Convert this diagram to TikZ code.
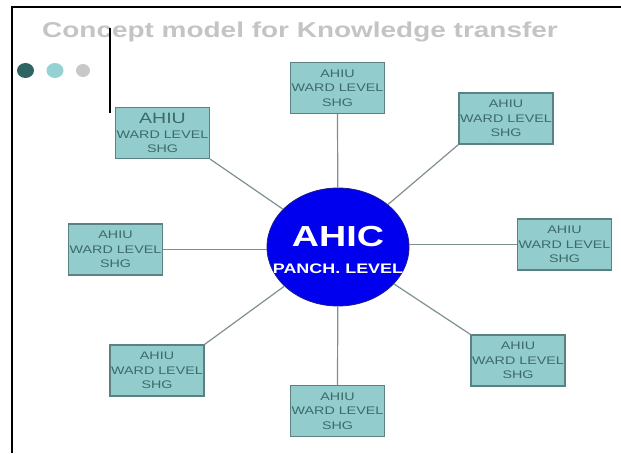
\documentclass[tikz,border=0pt]{standalone}
\usepackage{fontspec}
\usetikzlibrary{shapes.geometric}
\newfontfamily\wf[FakeStretch=1.3]{Liberation Sans}
\definecolor{boxfill}{HTML}{92CCCC}
\definecolor{boxline}{HTML}{5A8282}
\definecolor{boxtext}{HTML}{3C6A6A}
\definecolor{linkc}{HTML}{7F8F8F}
\definecolor{titlec}{HTML}{C4C4C4}
\definecolor{dotA}{HTML}{2F6464}
\definecolor{dotB}{HTML}{96D2D2}
\definecolor{dotC}{HTML}{C8C8C8}
\definecolor{hub}{HTML}{0000EE}
\definecolor{hubline}{HTML}{1A1A8C}
\begin{document}
\begin{tikzpicture}[x=1pt,y=-1pt,
  wardbox/.style={draw=boxline,line width=1.1pt,fill=boxfill,rectangle,
    minimum width=94pt,minimum height=51pt,inner sep=0pt,align=center,
    text=boxtext,font=\wf\fontsize{11}{14.5}\selectfont},
  link/.style={draw=linkc,line width=1.2pt},
  frameline/.style={draw=black,line width=2pt}]
\useasboundingbox (0,0) rectangle (621,453);
% frame
\coordinate (f1) at (621,7);
\coordinate (f2) at (11.5,7);
\coordinate (f3) at (11.5,453);
\draw[frameline] (f1) -- (f2) -- (f3);
% title
\node[anchor=base west,inner sep=0pt,text=titlec,font=\wf\bfseries\fontsize{21.5}{25}\selectfont] (title) at (42,37.5) {Concept model for Knowledge transfer};
% dots
\fill[dotA] (25.5,70.5) ellipse [x radius=8.5,y radius=7.5];
\fill[dotB] (55,70.5) ellipse [x radius=8.5,y radius=7.5];
\fill[dotC] (83,70.5) ellipse [x radius=7,y radius=6.5];
% vertical bar
\coordinate (v1) at (109.5,28);
\coordinate (v2) at (109.5,113);
\draw[frameline] (v1) -- (v2);
% hub
\node[ellipse,draw=hubline,line width=0.8pt,fill=hub,minimum width=142pt,minimum height=118pt,inner sep=0pt] (c) at (338,247) {};
\node[inner sep=0pt,text=white,font=\wf\bfseries\fontsize{29}{32}\selectfont] (ahic) at (338,236.5) {AHIC};
\node[inner sep=0pt,text=white,font=\wf\bfseries\fontsize{13.8}{15}\selectfont] (panch) at (338,268.5) {PANCH. LEVEL};
% boxes
\node[wardbox] (tc) at (337.5,88) {AHIU\\WARD LEVEL\\SHG};
\node[wardbox] (tl) at (162.5,133) {{\fontsize{15}{17}\selectfont AHIU}\\WARD LEVEL\\SHG};
\node[wardbox] (tr) at (506,118.5) {AHIU\\WARD LEVEL\\SHG};
\node[wardbox] (l) at (115.5,249.5) {AHIU\\WARD LEVEL\\SHG};
\node[wardbox] (r) at (564.5,244.5) {AHIU\\WARD LEVEL\\SHG};
\node[wardbox] (bl) at (157,370.5) {AHIU\\WARD LEVEL\\SHG};
\node[wardbox] (br) at (518,360.5) {AHIU\\WARD LEVEL\\SHG};
\node[wardbox] (bc) at (337.5,411) {AHIU\\WARD LEVEL\\SHG};
% links
\draw[link] (tc.south) -- (c);
\draw[link] (tl.south east) -- (c);
\draw[link] (tr.south west) -- (c);
\draw[link] (l.east) -- (l.east -| c.west);
\draw[link] (r.west) -- (r.west -| c.east);
\draw[link] (bl.north east) -- (c);
\draw[link] (br.north west) -- (c);
\draw[link] (bc.north) -- (c);
\end{tikzpicture}
\end{document}
